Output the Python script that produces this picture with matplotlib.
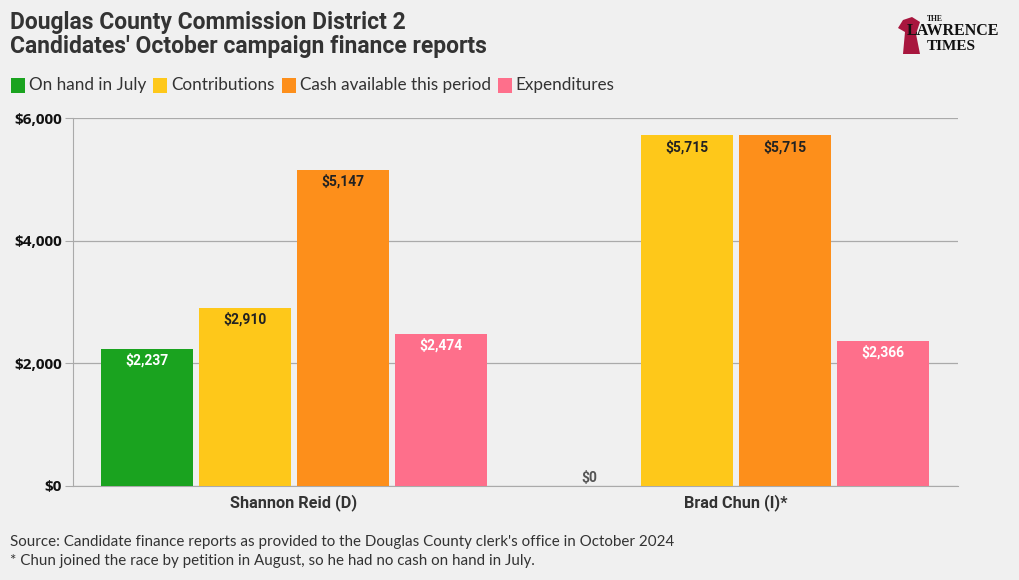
import matplotlib
matplotlib.use("Agg")
import matplotlib.pyplot as plt
from matplotlib.patches import Rectangle, Polygon
import numpy as np

candidates = ["Shannon Reid (D)", "Brad Chun (I)*"]
series = ["On hand in July", "Contributions", "Cash available this period", "Expenditures"]
values = {
    "On hand in July": [2237, 0],
    "Contributions": [2910, 5715],
    "Cash available this period": [5147, 5715],
    "Expenditures": [2474, 2366],
}
colors = ["#1aa31f", "#fec81a", "#fd8f1b", "#fe6f8b"]
label_colors = ["white", "#222222", "#222222", "white"]
yticks = [0, 2000, 4000, 6000]

bg = "#f0f0f0"
plt.rcParams['font.family'] = ['Lato', 'DejaVu Sans']

fig = plt.figure(figsize=(10.2, 5.8), dpi=100, facecolor=bg)
ax = fig.add_axes([73/1020, 1-486/580, (958-73)/1020, (486-118)/580])
ax.set_facecolor(bg)

slot = 0.222
width = 0.208
x = np.arange(len(candidates))
for i, s in enumerate(series):
    pos = x + (i - 1.5) * slot
    vals = values[s]
    ax.bar(pos, vals, width=width, color=colors[i], zorder=3)
    for p, v in zip(pos, vals):
        if v == 0:
            ax.annotate("$0", (p, 0), xytext=(0, 1), textcoords="offset points",
                        ha="center", va="bottom", fontsize=10, fontweight="bold",
                        color="#555555", zorder=4, fontfamily="Roboto")
        else:
            ax.annotate(f"${v:,}", (p, v), xytext=(0, -3), textcoords="offset points",
                        ha="center", va="top", fontsize=10, fontweight="bold",
                        color=label_colors[i], zorder=4, fontfamily="Roboto")

ax.set_xlim(-0.5, 1.502)
ax.set_ylim(0, 6000)
ax.set_yticks(yticks)
ax.set_yticklabels([f"${t:,}" for t in yticks], fontsize=11, fontweight="bold",
                   fontfamily="Open Sans", color="#111111")
ax.tick_params(axis="y", length=6, color="#aaaaaa", pad=2)
ax.set_xticks(x)
ax.set_xticklabels(candidates, fontsize=11.7, fontweight="bold", color="#333333",
                   fontfamily="Roboto")
ax.tick_params(axis="x", length=0, pad=6)
ax.grid(axis="y", color="#aaaaaa", linewidth=0.9, zorder=0)
for sp in ["top", "right"]:
    ax.spines[sp].set_visible(False)
ax.spines["left"].set_color("#aaaaaa")
ax.spines["bottom"].set_color("#aaaaaa")

# Title
fig.text(10/1020, 1-22/580, "Douglas County Commission District 2", fontsize=16.5,
         fontweight="bold", color="#333333", va="center", ha="left", fontfamily="Roboto")
fig.text(10/1020, 1-47/580, "Candidates' October campaign finance reports", fontsize=16.5,
         fontweight="bold", color="#333333", va="center", ha="left", fontfamily="Roboto")

# Legend
lx = 11
for i, s in enumerate(series):
    fig.patches.append(Rectangle((lx/1020, 1-93/580), 14/1020, 15/580, transform=fig.transFigure,
                                 facecolor=colors[i], edgecolor="none"))
    t = fig.text((lx+18)/1020, 1-85/580, s, fontsize=12.3, color="#333333", va="center", ha="left")
    fig.canvas.draw()
    bb = t.get_window_extent()
    lx = bb.x1 + 7

# Footer
fig.text(10/1020, 1-542/580, "Source: Candidate finance reports as provided to the Douglas County clerk's office in October 2024",
         fontsize=10.9, color="#333333", va="center", ha="left")
fig.text(10/1020, 1-561/580, "* Chun joined the race by petition in August, so he had no cash on hand in July.",
         fontsize=10.9, color="#333333", va="center", ha="left")

# Logo
fig.text(927/1020, 1-19/580, "THE", fontsize=5.5, color="#111111", fontfamily="Liberation Serif",
         fontweight="bold", ha="left", va="center")
fig.text(907/1020, 1-31/580, "LAWRENCE", fontsize=11.5, color="#111111", fontfamily="Liberation Serif",
         fontweight="bold", ha="left", va="center")
fig.text(927/1020, 1-47/580, "TIMES", fontsize=11, color="#111111", fontfamily="Liberation Serif",
         fontweight="bold", ha="left", va="center")
fig.patches.append(Polygon([(903/1020, 1-54/580), (905/1020, 1-32/580), (898/1020, 1-28/580),
                            (903/1020, 1-20/580), (912/1020, 1-17/580), (920/1020, 1-22/580),
                            (916/1020, 1-34/580), (920/1020, 1-54/580)],
                           closed=True, transform=fig.transFigure, facecolor="#a8163e", edgecolor="none"))

fig.savefig("out.png", dpi=100, facecolor=bg)
